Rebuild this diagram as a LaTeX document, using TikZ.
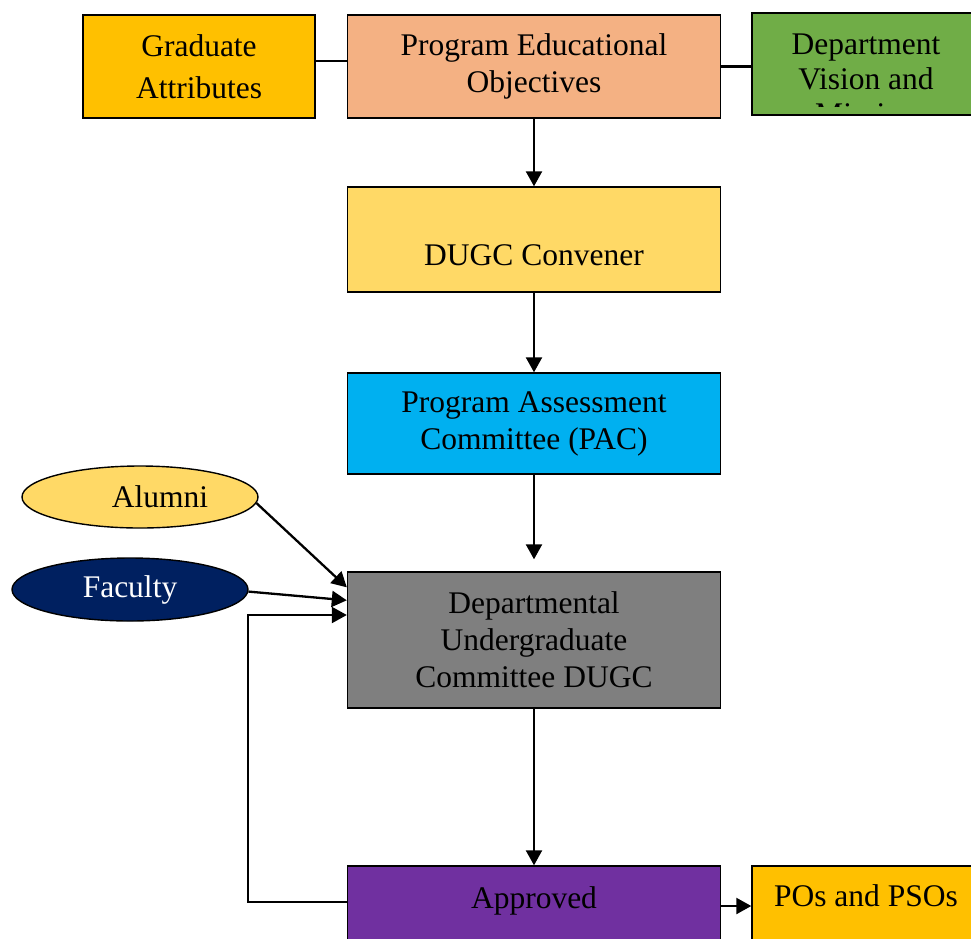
\documentclass[tikz,border=0pt]{standalone}
\usepackage{fontspec}
\setmainfont{Liberation Serif}
\usetikzlibrary{arrows.meta,shapes.geometric}

\definecolor{gaorange}{HTML}{FFC000}
\definecolor{peach}{HTML}{F4B183}
\definecolor{leafgreen}{HTML}{70AD47}
\definecolor{paleyellow}{HTML}{FFD966}
\definecolor{skyblue}{HTML}{00B0F0}
\definecolor{midgray}{HTML}{7F7F7F}
\definecolor{royalpurple}{HTML}{7030A0}
\definecolor{navy}{HTML}{002060}

\tikzset{
  box/.style={draw=black, line width=1.4pt, rectangle, align=center, inner sep=0pt,
    font=\fontsize{31.5}{37}\selectfont},
  oval/.style={draw=black, line width=1.4pt, ellipse, inner sep=0pt,
    font=\fontsize{31.5}{37}\selectfont},
  link/.style={line width=2.3pt, draw=black},
  flow/.style={line width=2.3pt, draw=black, -{Triangle[length=15pt,width=16pt]}},
  caption/.style={font=\fontsize{31.5}{37}\selectfont, inner sep=0pt, align=center}
}

\begin{document}
\begin{tikzpicture}[x=1pt,y=-1pt]
  \clip (0,0) rectangle (971,938);
  \useasboundingbox (0,0) rectangle (971,938);
  \fill[white] (0,0) rectangle (971,938);

  % top row
  \node[box, fill=gaorange, minimum width=232pt, minimum height=103pt,
        font=\fontsize{31.5}{42}\selectfont] (ga) at (199,66.5) {Graduate\\Attributes};
  \node[box, fill=peach, minimum width=373pt, minimum height=103pt] (peo) at (534,66.5) {Program Educational\\Objectives};
  \node[box, fill=leafgreen, minimum width=228pt, minimum height=102pt] (dept) at (866,64) {};
  \begin{scope}
    \clip (752,13) rectangle (980,106);
    \node[caption, font=\fontsize{31.5}{35}\selectfont] (depttxt) at (866,79) {Department\\Vision and\\Mission};
  \end{scope}

  % main column
  \node[box, fill=paleyellow, minimum width=373pt, minimum height=105pt,
        label={[caption, name=convtxt, yshift=-15.5pt]center:DUGC Convener}] (conv) at (534,239.5) {};
  \node[box, fill=skyblue, minimum width=373pt, minimum height=101pt] (pac) at (534,423.5) {Program Assessment\\Committee (PAC)};
  \node[box, fill=midgray, minimum width=373pt, minimum height=136pt] (dugc) at (534,640) {Departmental\\Undergraduate\\Committee DUGC};
  \node[box, fill=royalpurple, minimum width=373pt, minimum height=94pt,
        label={[caption, name=apprtxt, yshift=12pt]center:Approved}] (appr) at (534,913) {};
  \node[box, fill=gaorange, minimum width=228pt, minimum height=94pt,
        label={[caption, name=postxt, yshift=17pt]center:POs and PSOs}] (pos) at (866,913) {};

  % inputs on the left
  \node[oval, fill=paleyellow, minimum width=236pt, minimum height=62pt,
        label={[caption, name=alumnitxt, xshift=20pt]center:Alumni}] (alumni) at (140,497) {};
  \node[oval, fill=navy, text=white, minimum width=236pt, minimum height=63pt] (faculty) at (130,589.5) {Faculty};

  \coordinate (fb) at (248,615);

  % connectors
  \draw[link] ([yshift=5.5pt]ga.east) -- ([yshift=5.5pt]peo.west);
  \draw[link] (peo.east) -- (dept.west |- peo.east);
  \draw[flow] (peo.south) -- (conv.north);
  \draw[flow] (conv.south) -- (pac.north);
  \draw[flow] (pac.south) -- ([yshift=12pt]dugc.north);
  \draw[flow] (alumni.-3) -- ([yshift=-16pt]dugc.north west);
  \draw[flow] (faculty.-1) -- ([yshift=-29pt]dugc.north west);
  \draw[flow] ([yshift=11pt]appr.west) -| (fb) -- (dugc.west |- fb);
  \draw[flow] (dugc.south) -- (appr.north);
  \draw[flow] ([yshift=7pt]appr.east) -- ([yshift=7pt]pos.west);
\end{tikzpicture}
\end{document}
